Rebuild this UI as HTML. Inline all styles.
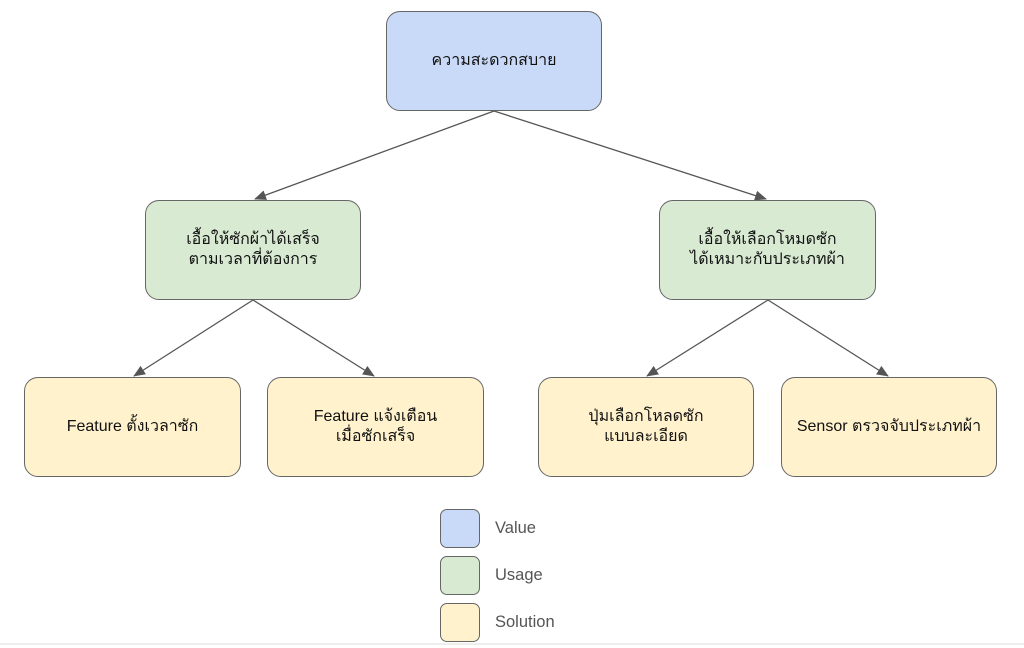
<!DOCTYPE html>
<html><head><meta charset="utf-8"><style>
html,body{margin:0;padding:0;background:#fff}
body{width:1024px;height:648px;position:relative;overflow:hidden;font-family:"Liberation Sans","DejaVu Sans",sans-serif}
.b{position:absolute;box-sizing:border-box;border:1.5px solid #666;border-radius:14px;display:flex;align-items:center;justify-content:center;text-align:center;font-size:16px;line-height:20px;color:#111}
.v{background:#c9daf8}.u{background:#d9ead3}.s{background:#fff2cc}
.l{position:absolute;box-sizing:border-box;border:1.5px solid #666;border-radius:7px;width:40px;height:39px;left:440px}
.t{position:absolute;left:495px;font-size:16.5px;color:#555}
</style></head><body>
<svg width="1024" height="648" style="position:absolute;left:0;top:0">
<defs><marker id="a" markerWidth="12" markerHeight="10" refX="11" refY="5" orient="auto" markerUnits="userSpaceOnUse"><path d="M0,0L12,5L0,10z" fill="#555"/></marker></defs>
<g stroke="#555" stroke-width="1.3" marker-end="url(#a)">
<line x1="494" y1="111" x2="255" y2="199"/>
<line x1="494" y1="111" x2="766" y2="199"/>
<line x1="253" y1="300" x2="134" y2="376"/>
<line x1="253" y1="300" x2="374" y2="376"/>
<line x1="768" y1="300" x2="647" y2="376"/>
<line x1="768" y1="300" x2="888" y2="376"/>
</g>
<line x1="0" y1="644" x2="1024" y2="644" stroke="#eee" stroke-width="2"/>
</svg>
<div class="b v" style="left:386px;top:11px;width:216px;height:100px">ความสะดวกสบาย</div>
<div class="b u" style="left:145px;top:200px;width:216px;height:100px">เอื้อให้ซักผ้าได้เสร็จ<br>ตามเวลาที่ต้องการ</div>
<div class="b u" style="left:659px;top:200px;width:217px;height:100px">เอื้อให้เลือกโหมดซัก<br>ได้เหมาะกับประเภทผ้า</div>
<div class="b s" style="left:24px;top:377px;width:217px;height:100px">Feature ตั้งเวลาซัก</div>
<div class="b s" style="left:267px;top:377px;width:217px;height:100px">Feature แจ้งเตือน<br>เมื่อซักเสร็จ</div>
<div class="b s" style="left:538px;top:377px;width:216px;height:100px">ปุ่มเลือกโหลดซัก<br>แบบละเอียด</div>
<div class="b s" style="left:781px;top:377px;width:216px;height:100px">Sensor ตรวจจับประเภทผ้า</div>
<div class="l v" style="top:509px"></div>
<div class="l u" style="top:556px"></div>
<div class="l s" style="top:603px"></div>
<div class="t" style="top:519px">Value</div>
<div class="t" style="top:566px">Usage</div>
<div class="t" style="top:613px">Solution</div>
</body></html>
